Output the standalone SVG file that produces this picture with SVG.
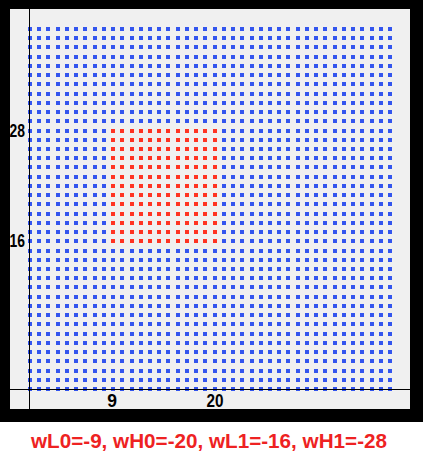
<svg xmlns="http://www.w3.org/2000/svg" width="423" height="460" viewBox="0 0 423 460">
<style>
.b{stroke:#3355EE;stroke-width:4;stroke-dasharray:4 5.230769;shape-rendering:crispEdges}
.r{stroke:#FF3322;stroke-width:4;stroke-dasharray:4 5.230769;shape-rendering:crispEdges}
.ax{stroke:#000;stroke-width:1;shape-rendering:crispEdges}
.lb{font-family:"Liberation Sans",Arial,sans-serif;font-weight:bold;font-size:17.5px;fill:#000}
.cap{font-family:"Liberation Sans",Arial,sans-serif;font-weight:bold;font-size:20.5px;fill:#EE2222}
</style>
<rect x="0" y="0" width="423" height="460" fill="#fff"/>
<rect x="0" y="0" width="423" height="422" fill="#000"/>
<rect x="10" y="9" width="400" height="400" fill="#F0F0F0"/>
<g id="blue-grid">
<line class="b" x1="28" x2="392" y1="389" y2="389"/>
<line class="b" x1="28" x2="392" y1="379.769" y2="379.769"/>
<line class="b" x1="28" x2="392" y1="370.538" y2="370.538"/>
<line class="b" x1="28" x2="392" y1="361.308" y2="361.308"/>
<line class="b" x1="28" x2="392" y1="352.077" y2="352.077"/>
<line class="b" x1="28" x2="392" y1="342.846" y2="342.846"/>
<line class="b" x1="28" x2="392" y1="333.615" y2="333.615"/>
<line class="b" x1="28" x2="392" y1="324.385" y2="324.385"/>
<line class="b" x1="28" x2="392" y1="315.154" y2="315.154"/>
<line class="b" x1="28" x2="392" y1="305.923" y2="305.923"/>
<line class="b" x1="28" x2="392" y1="296.692" y2="296.692"/>
<line class="b" x1="28" x2="392" y1="287.462" y2="287.462"/>
<line class="b" x1="28" x2="392" y1="278.231" y2="278.231"/>
<line class="b" x1="28" x2="392" y1="269" y2="269"/>
<line class="b" x1="28" x2="392" y1="259.769" y2="259.769"/>
<line class="b" x1="28" x2="392" y1="250.538" y2="250.538"/>
<line class="b" x1="28" x2="392" y1="241.308" y2="241.308"/>
<line class="b" x1="28" x2="392" y1="232.077" y2="232.077"/>
<line class="b" x1="28" x2="392" y1="222.846" y2="222.846"/>
<line class="b" x1="28" x2="392" y1="213.615" y2="213.615"/>
<line class="b" x1="28" x2="392" y1="204.385" y2="204.385"/>
<line class="b" x1="28" x2="392" y1="195.154" y2="195.154"/>
<line class="b" x1="28" x2="392" y1="185.923" y2="185.923"/>
<line class="b" x1="28" x2="392" y1="176.692" y2="176.692"/>
<line class="b" x1="28" x2="392" y1="167.462" y2="167.462"/>
<line class="b" x1="28" x2="392" y1="158.231" y2="158.231"/>
<line class="b" x1="28" x2="392" y1="149" y2="149"/>
<line class="b" x1="28" x2="392" y1="139.769" y2="139.769"/>
<line class="b" x1="28" x2="392" y1="130.538" y2="130.538"/>
<line class="b" x1="28" x2="392" y1="121.308" y2="121.308"/>
<line class="b" x1="28" x2="392" y1="112.077" y2="112.077"/>
<line class="b" x1="28" x2="392" y1="102.846" y2="102.846"/>
<line class="b" x1="28" x2="392" y1="93.615" y2="93.615"/>
<line class="b" x1="28" x2="392" y1="84.385" y2="84.385"/>
<line class="b" x1="28" x2="392" y1="75.154" y2="75.154"/>
<line class="b" x1="28" x2="392" y1="65.923" y2="65.923"/>
<line class="b" x1="28" x2="392" y1="56.692" y2="56.692"/>
<line class="b" x1="28" x2="392" y1="47.462" y2="47.462"/>
<line class="b" x1="28" x2="392" y1="38.231" y2="38.231"/>
<line class="b" x1="28" x2="392" y1="29" y2="29"/>
</g>
<g id="red-grid">
<line class="r" x1="111.077" x2="216.615" y1="241.308" y2="241.308"/>
<line class="r" x1="111.077" x2="216.615" y1="232.077" y2="232.077"/>
<line class="r" x1="111.077" x2="216.615" y1="222.846" y2="222.846"/>
<line class="r" x1="111.077" x2="216.615" y1="213.615" y2="213.615"/>
<line class="r" x1="111.077" x2="216.615" y1="204.385" y2="204.385"/>
<line class="r" x1="111.077" x2="216.615" y1="195.154" y2="195.154"/>
<line class="r" x1="111.077" x2="216.615" y1="185.923" y2="185.923"/>
<line class="r" x1="111.077" x2="216.615" y1="176.692" y2="176.692"/>
<line class="r" x1="111.077" x2="216.615" y1="167.462" y2="167.462"/>
<line class="r" x1="111.077" x2="216.615" y1="158.231" y2="158.231"/>
<line class="r" x1="111.077" x2="216.615" y1="149" y2="149"/>
<line class="r" x1="111.077" x2="216.615" y1="139.769" y2="139.769"/>
<line class="r" x1="111.077" x2="216.615" y1="130.538" y2="130.538"/>
</g>
<g id="axes">
<line class="ax" x1="29.5" y1="9" x2="29.5" y2="409"/>
<line class="ax" x1="10" y1="389.5" x2="410" y2="389.5"/>
</g>
<g id="labels">
<text class="lb" x="25" y="137" text-anchor="end" textLength="15.5" lengthAdjust="spacingAndGlyphs">28</text>
<text class="lb" x="25" y="247" text-anchor="end" textLength="15.5" lengthAdjust="spacingAndGlyphs">16</text>
<text class="lb" x="112" y="407" text-anchor="middle">9</text>
<text class="lb" x="215" y="407" text-anchor="middle" textLength="17" lengthAdjust="spacingAndGlyphs">20</text>
<text class="cap" x="209" y="448" text-anchor="middle" textLength="356" lengthAdjust="spacingAndGlyphs">wL0=-9, wH0=-20, wL1=-16, wH1=-28</text>
</g>
</svg>
